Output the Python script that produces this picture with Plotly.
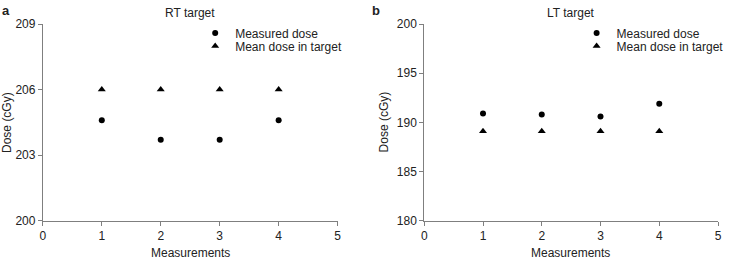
import plotly.graph_objects as go

measurements = [1, 2, 3, 4]
rt_measured = [204.6, 203.7, 203.7, 204.6]
rt_mean = [206.0, 206.0, 206.0, 206.0]
lt_measured = [190.9, 190.8, 190.6, 191.9]
lt_mean = [189.1, 189.1, 189.1, 189.1]

rt_ticks = [200, 203, 206, 209]
lt_ticks = [180, 185, 190, 195, 200]
x_ticks = [0, 1, 2, 3, 4, 5]

W, H = 729, 260
FONT = "Liberation Sans, Arial, sans-serif"
AX = "#7f7f7f"
TXT = "#222"


def fx(px):
    return px / W


def fy(py):
    return (H - py) / H


fig = go.Figure()
fig.add_trace(go.Scatter(x=measurements, y=rt_measured, mode="markers", name="Measured dose",
                         marker=dict(symbol="circle", size=6, color="black"),
                         xaxis="x", yaxis="y", legend="legend"))
fig.add_trace(go.Scatter(x=measurements, y=rt_mean, mode="markers", name="Mean dose in target",
                         marker=dict(symbol="triangle-up", size=7, color="black"),
                         xaxis="x", yaxis="y", legend="legend2"))
fig.add_trace(go.Scatter(x=measurements, y=lt_measured, mode="markers", name="Measured dose",
                         marker=dict(symbol="circle", size=6, color="black"),
                         xaxis="x2", yaxis="y2", legend="legend3"))
fig.add_trace(go.Scatter(x=measurements, y=lt_mean, mode="markers", name="Mean dose in target",
                         marker=dict(symbol="triangle-up", size=7, color="black"),
                         xaxis="x2", yaxis="y2", legend="legend4"))

x1 = [fx(43), fx(339)]
x2 = [fx(426), fx(721)]
yd = [fy(220.7), fy(24)]

axis_common = dict(showline=True, linecolor=AX, linewidth=1, ticks="outside", ticklen=4,
                   tickcolor=AX, showgrid=False, zeroline=False,
                   tickfont=dict(family=FONT, size=12, color=TXT), automargin=False)


def leg(xpx, ypx):
    return dict(x=fx(xpx), y=fy(ypx), xanchor="left", yanchor="middle",
                bgcolor="rgba(0,0,0,0)", itemwidth=30, borderwidth=0,
                font=dict(family=FONT, size=12, color=TXT))


LX1 = 236 - 40
LX2 = 619 - 40
fig.update_layout(
    width=W, height=H, margin=dict(l=0, r=0, t=0, b=0),
    paper_bgcolor="white", plot_bgcolor="white",
    font=dict(family=FONT, size=12, color=TXT),
    xaxis=dict(domain=x1, range=[0, 5], tickvals=x_ticks, anchor="y", **axis_common),
    yaxis=dict(domain=yd, range=[200, 209], tickvals=rt_ticks, anchor="x", **axis_common),
    xaxis2=dict(domain=x2, range=[0, 5], tickvals=x_ticks, anchor="y2", **axis_common),
    yaxis2=dict(domain=yd, range=[180, 200], tickvals=lt_ticks, anchor="x2", **axis_common),
    legend=leg(LX1, 33),
    legend2=leg(LX1, 46),
    legend3=leg(LX2, 33),
    legend4=leg(LX2, 46),
    showlegend=True,
)

ann = [
    dict(text="<b>a</b>", x=fx(0), y=fy(1), xanchor="left", yanchor="top", font=dict(size=13)),
    dict(text="<b>b</b>", x=fx(372), y=fy(1), xanchor="left", yanchor="top", font=dict(size=13)),
    dict(text="RT target", x=fx(191), y=fy(13), xanchor="center", yanchor="middle"),
    dict(text="LT target", x=fx(573), y=fy(13), xanchor="center", yanchor="middle"),
    dict(text="Measurements", x=fx(191), y=fy(253), xanchor="center", yanchor="middle"),
    dict(text="Measurements", x=fx(573), y=fy(253), xanchor="center", yanchor="middle"),
    dict(text="Dose (cGy)", x=fx(7), y=fy(122), xanchor="center", yanchor="middle", textangle=-90),
    dict(text="Dose (cGy)", x=fx(386), y=fy(122), xanchor="center", yanchor="middle", textangle=-90),
]
for a in ann:
    a.update(xref="paper", yref="paper", showarrow=False)
    a.setdefault("font", {})
    a["font"].update(family=FONT, color=TXT)
    a["font"].setdefault("size", 12)
fig.update_layout(annotations=ann)

fig.write_html("out.html")
